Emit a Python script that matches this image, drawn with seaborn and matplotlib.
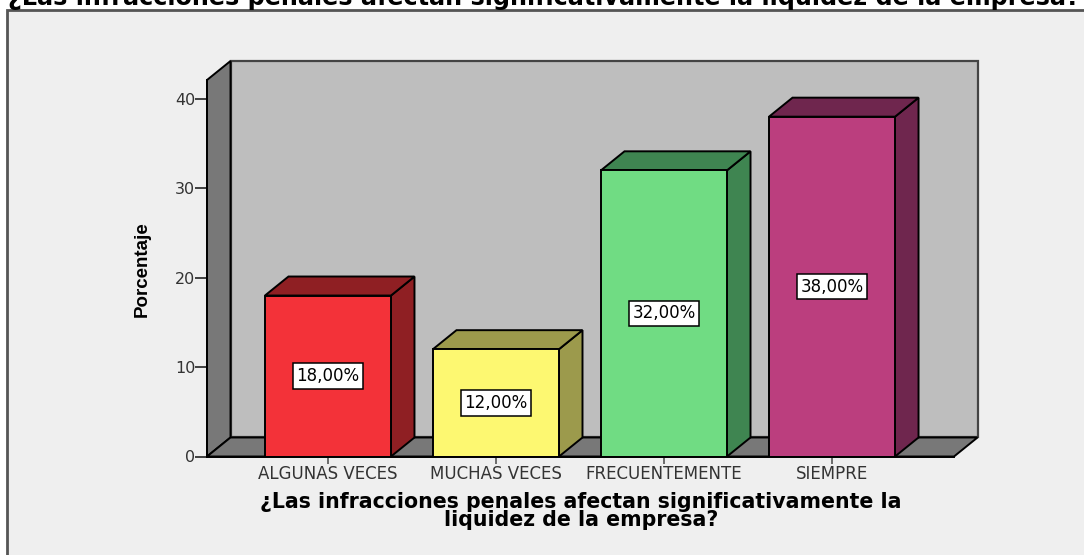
import matplotlib
matplotlib.use("Agg")
import matplotlib.pyplot as plt
from matplotlib.patches import Polygon, Rectangle
import pandas as pd
import seaborn as sns

categories = ["ALGUNAS VECES", "MUCHAS VECES", "FRECUENTEMENTE", "SIEMPRE"]
values = [18, 12, 32, 38]
value_labels = ["18,00%", "12,00%", "32,00%", "38,00%"]
front_colors = ["#f33239", "#fdf871", "#70dc83", "#bb3e7e"]
side_colors = ["#8f1f23", "#9c9a4c", "#3f8551", "#6f264e"]
y_ticks = [0, 10, 20, 30, 40]
title = "¿Las infracciones penales afectan significativamente la liquidez de la empresa?"
x_label = "¿Las infracciones penales afectan significativamente la\nliquidez de la empresa?"
y_label = "Porcentaje"

W, H = 1084, 555
sns.set_theme(style="white")
fig = plt.figure(figsize=(W / 100, H / 100), dpi=100, facecolor="white")
fig.add_artist(Rectangle((7 / W, -0.02), 1.1, 1 + 0.02 - 10 / H, transform=fig.transFigure,
                         facecolor="#efefef", edgecolor="#555555", linewidth=2, zorder=-5))
fig.text(544 / W, 1 - 5 / H, title, ha="center", va="baseline", fontsize=17.2,
         fontweight="bold", family="DejaVu Sans", color="black")

ax = fig.add_axes([207 / W, 1 - 456.5 / H, (954 - 207) / W, (456.5 - 80) / H])
ax.patch.set_visible(False)

df = pd.DataFrame({"cat": categories, "val": values})
sns.barplot(data=df, x="cat", y="val", hue="cat", palette=front_colors, width=0.75, saturation=1,
            dodge=False, legend=False, edgecolor="black", linewidth=1.4, ax=ax, zorder=5)
ax.set_xlim(-0.72, 3.726)
ax.set_ylim(0, 42.1)

dx, dy = 23.5 / 168, 19 / 8.94
x0, x1 = ax.get_xlim()
y0, y1 = ax.get_ylim()
edge = dict(edgecolor="black", linewidth=1.4, clip_on=False)
ax.add_patch(Polygon([(x0 + dx, y0 + dy), (x1 + dx, y0 + dy), (x1 + dx, y1 + dy), (x0 + dx, y1 + dy)],
                     facecolor="#bebebe", zorder=1, edgecolor="#444444", linewidth=1.6, clip_on=False))
ax.add_patch(Polygon([(x0, y0), (x0 + dx, y0 + dy), (x0 + dx, y1 + dy), (x0, y1)],
                     facecolor="#787878", zorder=2, **edge))
ax.add_patch(Polygon([(x0, y0), (x1, y0), (x1 + dx, y0 + dy), (x0 + dx, y0 + dy)],
                     facecolor="#787878", zorder=2, **edge))

for container, side, lab in zip(ax.containers, side_colors, value_labels):
    bar = container[0]
    l, w, h = bar.get_x(), bar.get_width(), bar.get_height()
    r = l + w
    ax.add_patch(Polygon([(r, 0), (r + dx, dy), (r + dx, h + dy), (r, h)],
                         facecolor=side, zorder=4, **edge))
    ax.add_patch(Polygon([(l, h), (r, h), (r + dx, h + dy), (l + dx, h + dy)],
                         facecolor=side, zorder=4, **edge))
    ax.text(l + w / 2, h / 2, lab, ha="center", va="center", fontsize=12, family="DejaVu Sans",
            color="black", zorder=7,
            bbox=dict(boxstyle="square,pad=0.22", facecolor="white", edgecolor="black", linewidth=1.1))

sns.despine(ax=ax, top=True, right=True)
for s in ("left", "bottom"):
    ax.spines[s].set_color("black")
    ax.spines[s].set_linewidth(1.4)
    ax.spines[s].set_zorder(6)
ax.set_yticks(y_ticks)
ax.tick_params(axis="y", direction="out", length=8.5, width=1.2, color="#222222",
               labelsize=11.5, labelcolor="#333333", left=True, pad=0)
ax.tick_params(axis="x", direction="out", length=5, width=1.2, color="#555555",
               labelsize=12, labelcolor="#333333", bottom=True, pad=1)
ax.set_xlabel("")
ax.set_ylabel("")
fig.text(581 / W, 1 - 511 / H, x_label, ha="center", va="center", fontsize=14.8,
         fontweight="bold", family="DejaVu Sans", color="black", linespacing=0.85)
fig.text(142 / W, 1 - 269 / H, y_label, ha="center", va="center", rotation=90,
         fontsize=13.5, fontweight="bold",
         family=["Liberation Sans Narrow", "Liberation Sans"], color="black")
fig.savefig("out.png", dpi=100, facecolor="white")
